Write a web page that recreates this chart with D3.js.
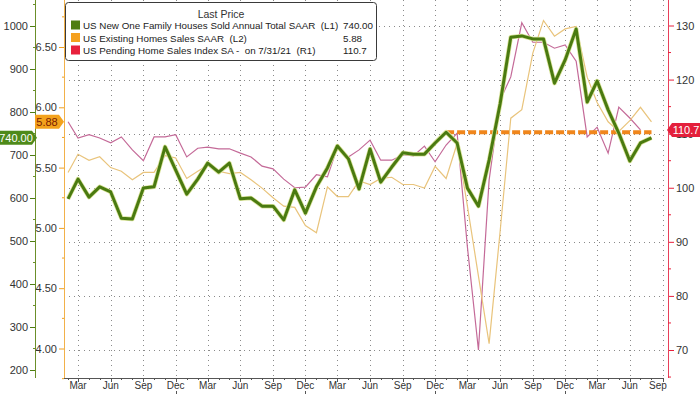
<!DOCTYPE html>
<html>
<head>
<meta charset="utf-8">
<script src="https://cdn.jsdelivr.net/npm/d3@7"></script>
<style>
  body { margin: 0; background: #fff; }
  text { font-family: "Liberation Sans", Arial, sans-serif; }
</style>
</head>
<body>
<svg id="chart" width="700" height="394"></svg>
<script>
// monthly data, Feb 2017 onward
const firstMonth = new Date(2017, 1, 1);

// US New One Family Houses Sold, SAAR (thousands) - L1
const newHomeSales = [598, 644, 602, 626, 614, 553, 551, 623, 626, 719, 665,
  609, 644, 681, 660, 681, 598, 600, 581, 581, 549, 619, 565,
  626, 670, 721, 691, 621, 714, 637, 672, 705, 702, 702, 728,
  753, 728, 623, 581, 688, 819, 974, 977, 970, 970, 867, 921,
  993, 823, 872, 805, 751, 686, 728, 740];

// US Existing Homes Sales SAAR (millions) - L2
const existingSales = [5.46, 5.61, 5.56, 5.59, 5.50, 5.47, 5.40, 5.46, 5.46, 5.60, 5.58,
  5.41, 5.47, 5.52, 5.47, 5.45, 5.46, 5.40, 5.33, 5.25, 5.18, 5.17, 5.02,
  4.96, 5.34, 5.26, 5.26, 5.39, 5.36, 5.41, 5.42, 5.36, 5.36, 5.33, 5.51,
  5.41, 5.70, 5.18, 4.60, 4.04, 4.97, 5.91, 5.98, 6.45, 6.72, 6.59, 6.65,
  6.67, 6.25, 6.04, 5.88, 5.80, 5.89, 6.00, 5.88];

// US Pending Home Sales Index SA - R1 (ends Jul 2021)
const pendingIndex = [112.2, 109.2, 109.8, 109.2, 108.3, 109.4, 107.0, 105.0, 109.4, 109.4, 109.8,
  105.7, 107.3, 107.5, 107.2, 107.2, 106.4, 105.7, 104.0, 103.5, 101.6, 100.0, 100.1,
  102.4, 102.0, 107.5, 105.7, 107.0, 108.8, 105.1, 105.1, 106.1, 105.9, 107.7, 104.8,
  107.9, 110.1, 89.0, 70.0, 101.4, 116.2, 120.5, 130.5, 126.9, 126.9, 125.8, 126.4,
  123.4, 109.4, 111.2, 106.4, 114.9, 112.9, 110.7];

// dashed pre-covid level (L1 units), Jan 2020 -> Aug 2021
const refLevel = { from: new Date(2020, 0, 1), to: new Date(2021, 7, 1), value: 753 };

const legendRows = [
  { name: "US New One Family Houses Sold Annual Total SAAR  (L1)", last: "740.00", color: "#4e7d12" },
  { name: "US Existing Homes Sales SAAR  (L2)", last: "5.88", color: "#f5a01e" },
  { name: "US Pending Home Sales Index SA -  on 7/31/21  (R1)", last: "110.7", color: "#e8203c" }
];

const l1Ticks = [200, 300, 400, 500, 600, 700, 800, 900, 1000];
const l2Ticks = [4.0, 4.5, 5.0, 5.5, 6.0, 6.5];
const r1Ticks = [70, 80, 90, 100, 110, 120, 130];

const svg = d3.select("#chart");
const plot = { left: 64, right: 663, top: 0, bottom: 378 };

const months = newHomeSales.map((d, i) => d3.timeMonth.offset(firstMonth, i));

const x = d3.scaleTime()
  .domain([new Date(2017, 2, 1), new Date(2021, 8, 1)])
  .range([78, 662.5]);
const yL1 = d3.scaleLinear().domain([200, 1000]).range([370, 26]);
const yL2 = d3.scaleLinear().domain([4.0, 6.5]).range([348.5, 47]);
const yR1 = d3.scaleLinear().domain([70, 130]).range([350, 25.5]);

svg.append("defs").append("clipPath").attr("id", "clip")
  .append("rect")
  .attr("x", plot.left).attr("y", plot.top)
  .attr("width", plot.right - plot.left).attr("height", plot.bottom - plot.top);

// grid
const allMonths = d3.timeMonth.range(new Date(2017, 1, 1), new Date(2021, 8, 2));
const quarterTicks = allMonths.filter(d => d.getMonth() % 3 === 2);
const grid = svg.append("g").attr("stroke", "#8a8a8a").attr("stroke-dasharray", "1,4").attr("stroke-width", 1);
grid.selectAll(".vg").data(quarterTicks).enter().append("line")
  .attr("x1", d => Math.round(x(d)) + 0.5).attr("x2", d => Math.round(x(d)) + 0.5)
  .attr("y1", plot.top).attr("y2", plot.bottom);
grid.selectAll(".hg").data(r1Ticks).enter().append("line")
  .attr("x1", plot.left).attr("x2", plot.right)
  .attr("y1", d => Math.round(yR1(d)) + 0.5).attr("y2", d => Math.round(yR1(d)) + 0.5);

// x axis
svg.append("line")
  .attr("x1", plot.left).attr("x2", plot.right)
  .attr("y1", plot.bottom + 0.5).attr("y2", plot.bottom + 0.5)
  .attr("stroke", "#555");
svg.append("g").selectAll("line").data(allMonths).enter().append("line")
  .attr("x1", d => Math.round(x(d)) + 0.5).attr("x2", d => Math.round(x(d)) + 0.5)
  .attr("y1", plot.bottom).attr("y2", d => d.getMonth() % 3 === 2 ? plot.bottom + 4 : plot.bottom + 2)
  .attr("stroke", "#555");
// year marks under the Dec labels
svg.append("g").selectAll("line").data(quarterTicks.filter(d => d.getMonth() === 11)).enter()
  .append("line")
  .attr("x1", d => Math.round(x(d)) + 0.5).attr("x2", d => Math.round(x(d)) + 0.5)
  .attr("y1", 391).attr("y2", 394)
  .attr("stroke", "#555");
svg.append("g").selectAll("text").data(quarterTicks).enter().append("text")
  .attr("x", d => Math.min(x(d), 658))
  .attr("y", 389)
  .attr("text-anchor", "middle")
  .attr("font-size", 10)
  .attr("fill", "#333")
  .text(d3.timeFormat("%b"));

// left axes
function styleAxis(g, color) {
  g.select(".domain").remove();
  g.selectAll(".tick line").attr("stroke", color);
  g.selectAll(".tick text").attr("fill", "#333").attr("font-size", 11)
    .attr("font-family", "Liberation Sans, Arial, sans-serif");
}

const l1 = svg.append("g").attr("transform", "translate(35,0)")
  .call(d3.axisLeft(yL1).tickValues(l1Ticks).tickSize(5).tickPadding(2).tickFormat(d3.format("d")))
  .call(g => styleAxis(g, "#4e7d12"));
l1.append("line").attr("x1", 0.5).attr("x2", 0.5).attr("y1", 0).attr("y2", plot.bottom).attr("stroke", "#6b8f2a");
l1.selectAll(".minor").data(d3.range(250, 1051, 100)).enter().append("line")
  .attr("x1", -2).attr("x2", 0).attr("y1", d => yL1(d)).attr("y2", d => yL1(d)).attr("stroke", "#6b8f2a");

const l2 = svg.append("g").attr("transform", "translate(64,0)")
  .call(d3.axisLeft(yL2).tickValues(l2Ticks).tickSize(5).tickPadding(2).tickFormat(d3.format(".2f")))
  .call(g => styleAxis(g, "#f0a020"));
l2.append("line").attr("x1", 0.5).attr("x2", 0.5).attr("y1", 0).attr("y2", plot.bottom).attr("stroke", "#f2b14a");
l2.selectAll(".minor").data(d3.range(3.75, 6.8, 0.5)).enter().append("line")
  .attr("x1", -2).attr("x2", 0).attr("y1", d => yL2(d)).attr("y2", d => yL2(d)).attr("stroke", "#f0a020");

const r1 = svg.append("g").attr("transform", "translate(668,0)")
  .call(d3.axisRight(yR1).tickValues(r1Ticks).tickSize(6).tickPadding(2))
  .call(g => styleAxis(g, "#e8203c"));
r1.append("line").attr("x1", 0.5).attr("x2", 0.5).attr("y1", 0).attr("y2", plot.bottom).attr("stroke", "#e8405a");
r1.selectAll(".minor").data(d3.range(65, 136, 10)).enter().append("line")
  .attr("x1", 0).attr("x2", 3).attr("y1", d => yR1(d)).attr("y2", d => yR1(d)).attr("stroke", "#e8203c");

// series
const lines = svg.append("g").attr("clip-path", "url(#clip)").attr("fill", "none");

lines.append("path")
  .datum(pendingIndex)
  .attr("d", d3.line().x((d, i) => x(months[i])).y(d => yR1(d)))
  .attr("stroke", "#c46a98").attr("stroke-width", 1.2);

lines.append("path")
  .datum(existingSales)
  .attr("d", d3.line().x((d, i) => x(months[i])).y(d => yL2(d)))
  .attr("stroke", "#e9c47c").attr("stroke-width", 1.2);

lines.append("line")
  .attr("x1", x(refLevel.from)).attr("x2", x(refLevel.to))
  .attr("y1", yL1(refLevel.value)).attr("y2", yL1(refLevel.value))
  .attr("stroke", "#f0861c").attr("stroke-width", 4).attr("stroke-dasharray", "8,3");

lines.append("path")
  .datum(newHomeSales)
  .attr("d", d3.line().x((d, i) => x(months[i])).y(d => yL1(d)))
  .attr("stroke", "#d9e39a").attr("stroke-width", 4.5).attr("stroke-linejoin", "round");
lines.append("path")
  .datum(newHomeSales)
  .attr("d", d3.line().x((d, i) => x(months[i])).y(d => yL1(d)))
  .attr("stroke", "#4a7a10").attr("stroke-width", 3).attr("stroke-linejoin", "round");

// legend
const lg = svg.append("g");
lg.append("rect").attr("x", 65.5).attr("y", 2.5).attr("width", 311).attr("height", 58).attr("rx", 3)
  .attr("fill", "#fff").attr("stroke", "#3a3a3a");
lg.append("text").attr("x", 221).attr("y", 18).attr("text-anchor", "middle")
  .attr("font-size", 10.5).attr("fill", "#333").text("Last Price");
legendRows.forEach((r, i) => {
  const yy = 25 + i * 12.5;
  lg.append("rect").attr("x", 71).attr("y", yy - 4.5).attr("width", 9).attr("height", 9).attr("fill", r.color);
  lg.append("text").attr("x", 83).attr("y", yy + 4).attr("font-size", 9.8).attr("fill", "#222")
    .style("white-space", "pre").text(r.name);
  lg.append("text").attr("x", 343).attr("y", yy + 4).attr("font-size", 9.8).attr("fill", "#222").text(r.last);
});

// last value badges
function badge(xl, yc, w, label, fill, txt, pointRight) {
  const h = 14;
  const pts = pointRight
    ? [[xl, yc - h / 2], [xl + w - 5, yc - h / 2], [xl + w, yc], [xl + w - 5, yc + h / 2], [xl, yc + h / 2]]
    : [[xl + 5, yc - h / 2], [xl + w, yc - h / 2], [xl + w, yc + h / 2], [xl + 5, yc + h / 2], [xl, yc]];
  svg.append("polygon").attr("points", pts.map(p => p.join(",")).join(" ")).attr("fill", fill);
  svg.append("text").attr("x", pointRight ? xl + (w - 5) / 2 : xl + 5 + (w - 5) / 2).attr("y", yc + 4)
    .attr("text-anchor", "middle").attr("font-size", 11).attr("fill", txt).text(label);
}
badge(0, yL1(740), 37, "740.00", "#4e8a1a", "#fff", true);
badge(35, yL2(5.88), 29, "5.88", "#f3a21c", "#7a1a00", true);
badge(667, yR1(110.7), 33, "110.7", "#e4203c", "#fff", false);
</script>
</body>
</html>
